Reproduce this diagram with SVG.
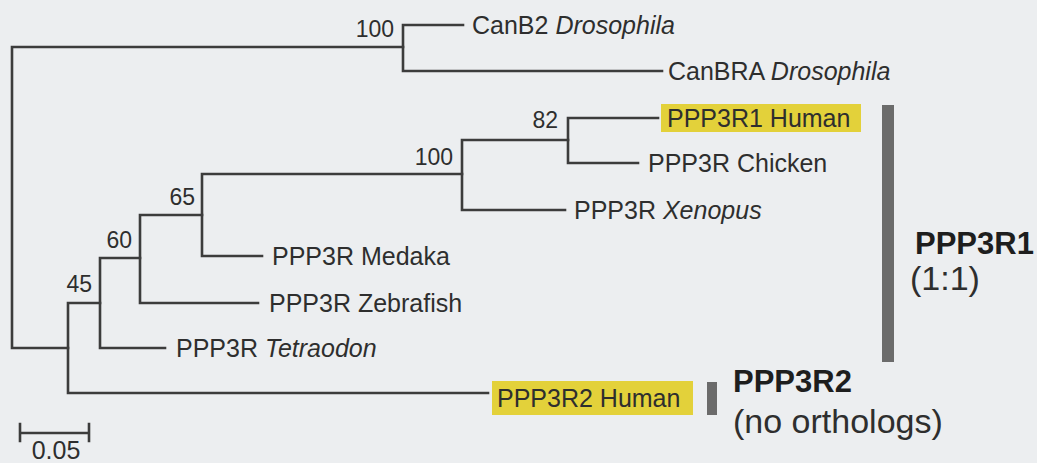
<svg xmlns="http://www.w3.org/2000/svg" width="1037" height="463" viewBox="0 0 1037 463">
<style>
.bg{fill:#eceef0}
.br{stroke:#3c3c3c;stroke-width:2.6;fill:none;stroke-linecap:square}
.lf{font-family:"Liberation Sans",Arial,sans-serif;font-size:25px;fill:#2e2e2e}
.sv{font-family:"Liberation Sans",Arial,sans-serif;font-size:23px;fill:#2e2e2e;text-anchor:end}
.it{font-style:italic}
.hl{fill:#e3d13a}
.bar{fill:#6b6b6b}
.cb{font-family:"Liberation Sans",Arial,sans-serif;font-size:31px;font-weight:bold;fill:#1e1e1e}
.cn{font-family:"Liberation Sans",Arial,sans-serif;font-size:34px;fill:#2e2e2e}
</style>
<rect class="bg" x="0" y="0" width="1037" height="463"/>
<g id="connectors">
<path class="br" d="M403 47 H12 V348 H68"/>
<path class="br" d="M463 25 H403 V71 H662"/>
<path class="br" d="M100 303 H68 V393 H488"/>
<path class="br" d="M140 258 H100 V348 H165"/>
<path class="br" d="M202 215 H140 V303 H258"/>
<path class="br" d="M462 174 H202 V256 H262"/>
<path class="br" d="M568 140 H462 V210 H565"/>
<path class="br" d="M658 118 H568 V163 H638"/>
</g>
<g id="support">
<text class="sv" x="394" y="37">100</text>
<text class="sv" x="558" y="128">82</text>
<text class="sv" x="453" y="165">100</text>
<text class="sv" x="195" y="205">65</text>
<text class="sv" x="132" y="248">60</text>
<text class="sv" x="92" y="292">45</text>
</g>
<g id="leaf-canb2"><text class="lf" x="472" y="34">CanB2 <tspan class="it">Drosophila</tspan></text></g>
<g id="leaf-canbra"><text class="lf" x="668" y="80">CanBRA <tspan class="it">Drosophila</tspan></text></g>
<g id="leaf-ppp3r1-human"><rect class="hl" x="661" y="104" width="200" height="28"/><text class="lf" x="667" y="127">PPP3R1 Human</text></g>
<g id="leaf-chicken"><text class="lf" x="648" y="172">PPP3R Chicken</text></g>
<g id="leaf-xenopus"><text class="lf" x="574" y="219">PPP3R <tspan class="it">Xenopus</tspan></text></g>
<g id="leaf-medaka"><text class="lf" x="272" y="265">PPP3R Medaka</text></g>
<g id="leaf-zebrafish"><text class="lf" x="269" y="312">PPP3R Zebrafish</text></g>
<g id="leaf-tetraodon"><text class="lf" x="176" y="357">PPP3R <tspan class="it">Tetraodon</tspan></text></g>
<g id="leaf-ppp3r2-human"><rect class="hl" x="492" y="381" width="201" height="34"/><text class="lf" x="497" y="407">PPP3R2 Human</text></g>
<g id="clade-ppp3r1"><rect class="bar" x="882" y="105" width="12" height="257"/><text class="cb" x="915" y="254">PPP3R1</text><text class="cn" x="910" y="290" font-size="33">(1:1)</text></g>
<g id="clade-ppp3r2"><rect class="bar" x="707" y="382" width="10" height="33"/><text class="cb" x="733" y="392">PPP3R2</text><text class="cn" x="733" y="433">(no orthologs)</text></g>
<g id="scale"><path class="br" d="M20 433 H89 M20 424 V441 M89 424 V441"/><text class="lf" x="56" y="459" text-anchor="middle" font-size="22">0.05</text></g>
</svg>
